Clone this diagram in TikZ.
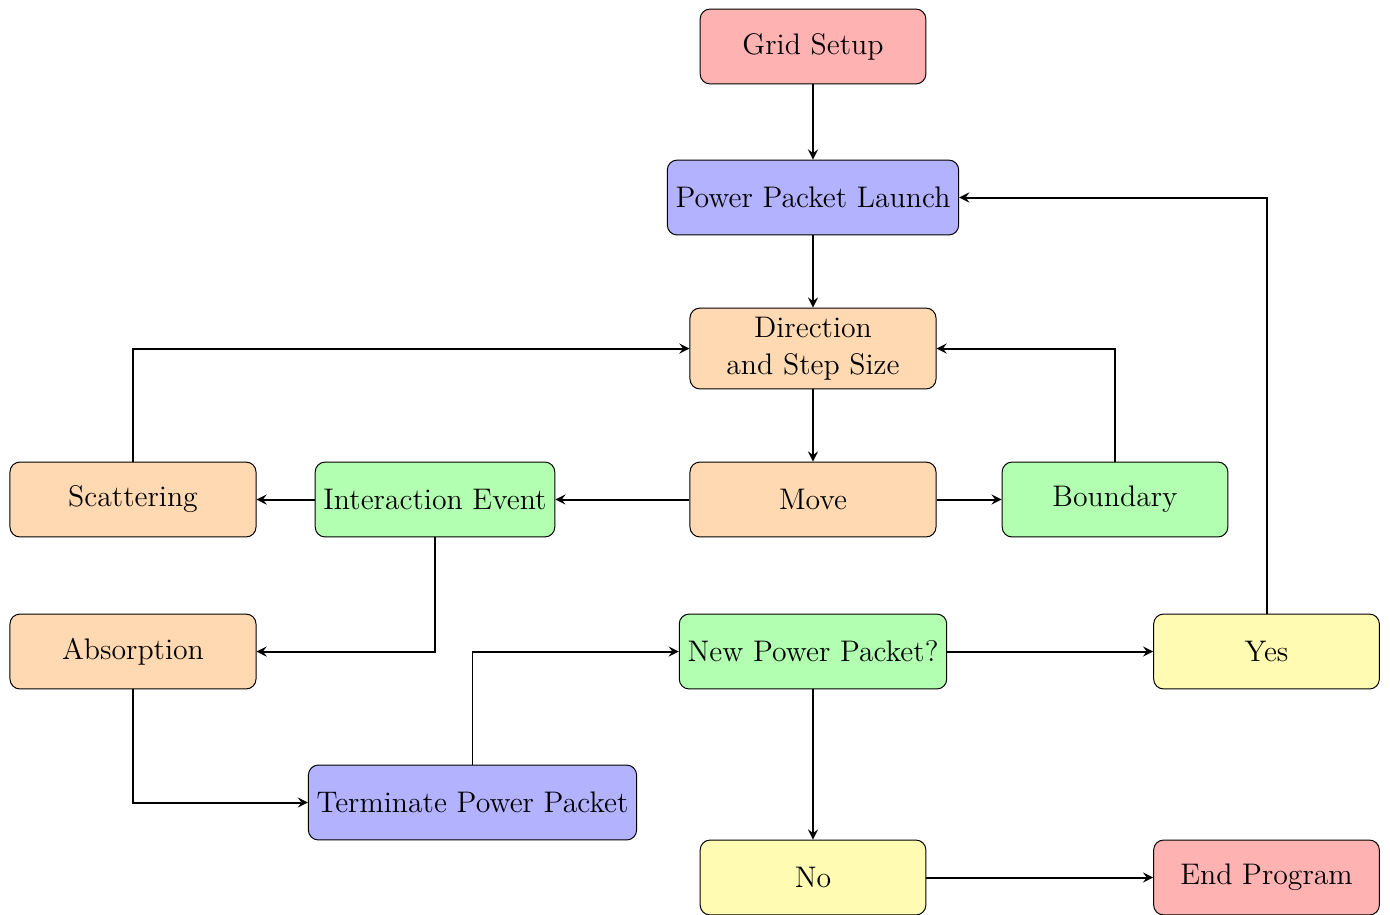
\documentclass[tikz,border=0pt]{standalone}
\usetikzlibrary{arrows}
\begin{document}
\begin{tikzpicture}[x=0.4032pt,y=-0.4032pt,
  box/.style={draw=black, rounded corners=4pt, minimum width=91pt, minimum height=30.2pt, font=\fontsize{12pt}{15pt}\selectfont, align=center},
  red box/.style={box, fill=red!30},
  blue box/.style={box, fill=blue!30},
  orange box/.style={box, fill=orange!30},
  green box/.style={box, fill=green!30},
  yellow box/.style={box, fill=yellow!30},
  arr/.style={->, >=stealth, thick}]
\useasboundingbox (0,0) rectangle (1390,914);
\node[red box] (grid) at (813,46.5) {Grid Setup};
\node[blue box] (ppl) at (813,197.5) {Power Packet Launch};
\node[orange box, minimum width=99.2pt, minimum height=32.6pt] (dir) at (813,348.5) {Direction\\and Step Size};
\node[orange box, minimum width=99.2pt] (move) at (813,499.5) {Move};
\node[green box] (bound) at (1115,499.5) {Boundary};
\node[green box] (inter) at (435,499.5) {Interaction Event};
\node[orange box, minimum width=99.2pt] (scat) at (133,499.5) {Scattering};
\node[orange box, minimum width=99.2pt] (abs) at (133,651.5) {Absorption};
\node[green box] (npp) at (813,651.5) {New Power Packet?};
\node[yellow box] (yes) at (1266.5,651.5) {Yes};
\node[blue box] (term) at (472.5,802.5) {Terminate Power Packet};
\node[yellow box] (no) at (813,877.5) {No};
\node[red box] (end) at (1266.5,877.5) {End Program};

\draw[arr] (grid) -- (ppl);
\draw[arr] (ppl) -- (dir);
\draw[arr] (dir) -- (move);
\draw[arr] (move) -- (inter);
\draw[arr] (move) -- (bound);
\draw[arr] (bound.north) |- (dir.east);
\draw[arr] (inter) -- (scat);
\draw[arr] (scat.north) |- (dir.west);
\draw[arr] (inter.south) |- (abs.east);
\draw[arr] (abs.south) |- (term.west);
\draw[arr] (term.north) |- (npp.west);
\draw[arr] (npp) -- (yes);
\draw[arr] (yes.north) |- (ppl.east);
\draw[arr] (npp) -- (no);
\draw[arr] (no) -- (end);
\end{tikzpicture}
\end{document}
